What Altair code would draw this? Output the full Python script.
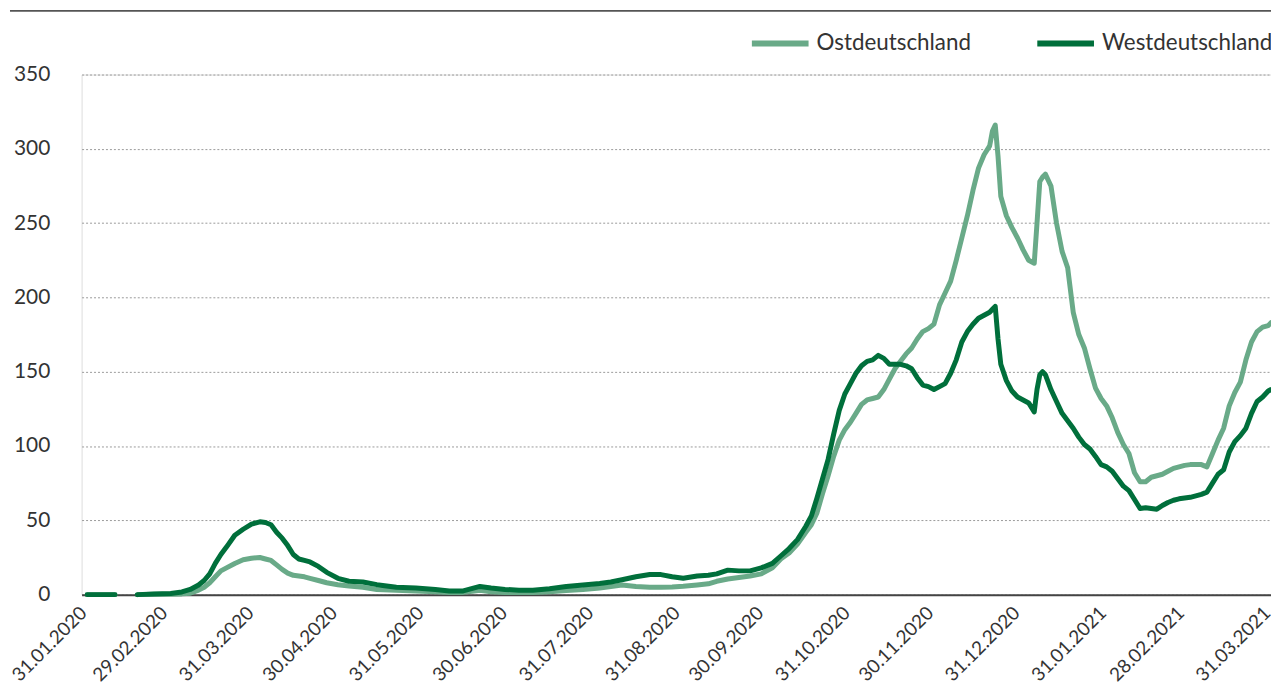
import altair as alt
import pandas as pd

# Dates (daily 7-day incidence readings)
dates = [
    "2020-01-31", "2020-02-05", "2020-02-10",
    "2020-02-18", "2020-02-24", "2020-03-01", "2020-03-05", "2020-03-08", "2020-03-11",
    "2020-03-13", "2020-03-15", "2020-03-17", "2020-03-19", "2020-03-21", "2020-03-24",
    "2020-03-27", "2020-03-30", "2020-04-02", "2020-04-04", "2020-04-06", "2020-04-08",
    "2020-04-10", "2020-04-12", "2020-04-14", "2020-04-16", "2020-04-18", "2020-04-20",
    "2020-04-23", "2020-04-26", "2020-04-30", "2020-05-04", "2020-05-09", "2020-05-14",
    "2020-05-21", "2020-05-28", "2020-06-04", "2020-06-09", "2020-06-14", "2020-06-18",
    "2020-06-20", "2020-06-24", "2020-06-29", "2020-07-04", "2020-07-09", "2020-07-15",
    "2020-07-21", "2020-07-27", "2020-08-02", "2020-08-06", "2020-08-10", "2020-08-15",
    "2020-08-20", "2020-08-24", "2020-08-28", "2020-09-01", "2020-09-06", "2020-09-10",
    "2020-09-13", "2020-09-17", "2020-09-21", "2020-09-25", "2020-09-29", "2020-10-03",
    "2020-10-06", "2020-10-09", "2020-10-12", "2020-10-15", "2020-10-17", "2020-10-19",
    "2020-10-21", "2020-10-23", "2020-10-25", "2020-10-27", "2020-10-29", "2020-10-31",
    "2020-11-02", "2020-11-04", "2020-11-06", "2020-11-08", "2020-11-10", "2020-11-12",
    "2020-11-14", "2020-11-16", "2020-11-18", "2020-11-20", "2020-11-22", "2020-11-24",
    "2020-11-26", "2020-11-28", "2020-11-30", "2020-12-02", "2020-12-04", "2020-12-06",
    "2020-12-08", "2020-12-10", "2020-12-12", "2020-12-14", "2020-12-16", "2020-12-18",
    "2020-12-20", "2020-12-21", "2020-12-22", "2020-12-23", "2020-12-24", "2020-12-26",
    "2020-12-28", "2020-12-30", "2021-01-01", "2021-01-03", "2021-01-05", "2021-01-06",
    "2021-01-07", "2021-01-08", "2021-01-09", "2021-01-11", "2021-01-13", "2021-01-15",
    "2021-01-17", "2021-01-19", "2021-01-21", "2021-01-23", "2021-01-25", "2021-01-27",
    "2021-01-29", "2021-01-31", "2021-02-02", "2021-02-04", "2021-02-06", "2021-02-08",
    "2021-02-10", "2021-02-12", "2021-02-14", "2021-02-16", "2021-02-18", "2021-02-20",
    "2021-02-22", "2021-02-24", "2021-02-26", "2021-02-28", "2021-03-02", "2021-03-04",
    "2021-03-06", "2021-03-08", "2021-03-10", "2021-03-12", "2021-03-14", "2021-03-16",
    "2021-03-18", "2021-03-20", "2021-03-22", "2021-03-24", "2021-03-26", "2021-03-28",
    "2021-03-30", "2021-03-31",
]

ost = [
    0, 0, 0,
    0, 0.2, 0.3, 0.5, 1, 3,
    5, 8, 12, 16, 18, 21,
    23.5, 24.5, 25, 24, 23, 20,
    17, 14.5, 13, 12.5, 12, 11,
    9.5, 8, 6.7, 5.8, 5, 3.5,
    3, 2.5, 2, 1.5, 1.5, 2.5,
    3, 2, 1.5, 1.5, 1.5, 2,
    2.8, 3.5, 4.5, 5.5, 6.5, 5.5,
    5, 5, 5.2, 5.6, 6.5, 7.3,
    9, 10.5, 11.5, 12.5, 14, 18,
    24, 28, 34, 42, 47, 55,
    68, 80, 93, 104, 111, 116,
    122, 128, 131, 132, 133, 138,
    145, 152, 157, 162, 166, 172,
    177, 179, 182, 195, 203, 211,
    225, 240, 255, 272, 287, 296,
    302, 312, 316, 295, 268, 255,
    247, 240, 232, 225, 223, 250,
    278, 281, 283, 275, 250, 231,
    220, 190, 175, 166, 152, 139,
    132, 127, 119, 109, 101, 95,
    82, 76, 76, 79, 80, 81,
    83, 85, 86, 87, 87.5, 87.5,
    87.5, 86, 95, 104, 112, 127,
    136, 143, 158, 170, 177, 180,
    181, 183,
]

west = [
    0, 0, 0,
    0, 0.4, 0.8, 1.8, 3.5, 6.5,
    9.5, 14, 21, 27, 32, 40,
    44, 47.5, 49, 48.5, 47, 42,
    38, 33, 27, 24, 23, 22,
    19, 15, 11, 9, 8.5, 6.7,
    5, 4.5, 3.5, 2.5, 2.5, 4.5,
    5.5, 4.5, 3.5, 3, 3, 4,
    5.5, 6.5, 7.5, 8.5, 10, 12,
    13.5, 13.5, 12, 11, 12.5, 13,
    14, 16.5, 16, 16, 18, 21,
    26, 31, 37, 46, 53, 65,
    78, 91, 108, 124, 135, 142,
    149, 154, 157, 158, 161, 159,
    155, 155, 155, 154, 152, 146,
    141, 140, 138, 140, 142, 149,
    158, 170, 177, 182, 186, 188,
    190, 192, 194, 172, 155, 144,
    137, 133, 131, 129, 123, 138,
    148, 150, 148, 138, 130, 122,
    117, 112, 106, 101, 98, 93,
    87.5, 86, 83, 78, 73, 70,
    64, 58, 58.5, 58, 57.5, 60,
    62, 63.5, 64.5, 65, 65.5, 66.5,
    67.5, 69, 75, 81, 84, 96,
    103, 107, 112, 122, 130, 133,
    137, 138,
]

series_names = ["Ostdeutschland", "Westdeutschland"]
series_colors = ["#69aa88", "#006f3b"]

tick_dates = [
    (2020, 1, 31), (2020, 2, 29), (2020, 3, 31), (2020, 4, 30), (2020, 5, 31),
    (2020, 6, 30), (2020, 7, 31), (2020, 8, 31), (2020, 9, 30), (2020, 10, 31),
    (2020, 11, 30), (2020, 12, 31), (2021, 1, 31), (2021, 2, 28), (2021, 3, 31),
]
y_ticks = [0, 50, 100, 150, 200, 250, 300, 350]

rows = []
for d, o, w in zip(dates, ost, west):
    seg = 0 if d < "2020-02-15" else 1
    rows.append({"date": d, "region": series_names[0], "value": o, "seg": seg})
    rows.append({"date": d, "region": series_names[1], "value": w, "seg": seg})
df = pd.DataFrame(rows)

FONT = "Lato"
TEXT = "#333333"

x_enc = alt.X(
    "date:T",
    scale=alt.Scale(
        type="utc",
        domain=[alt.DateTime(year=2020, month=1, date=29, utc=True),
                alt.DateTime(year=2021, month=3, date=31, utc=True)],
        nice=False,
    ),
    axis=alt.Axis(
        values=[alt.DateTime(year=a, month=b, date=c, utc=True) for a, b, c in tick_dates],
        format="%d.%m.%Y",
        labelAngle=-45,
        labelAlign="right",
        labelBaseline="middle",
        labelPadding=15,
        labelOffset=-4,
        labelFontSize=19,
        labelFont=FONT,
        labelColor=TEXT,
        labelOverlap=False,
        labelFlush=False,
        labelBound=False,
        ticks=False,
        grid=False,
        domain=True,
        domainColor="#444444",
        domainWidth=2,
        title=None,
    ),
)

y_enc = alt.Y(
    "value:Q",
    scale=alt.Scale(domain=[0, 350], nice=False),
    axis=alt.Axis(
        values=y_ticks,
        grid=True,
        gridDash=[2, 2],
        gridColor="#9a9a9a",
        gridWidth=1,
        domain=False,
        ticks=False,
        labelFontSize=21,
        labelFont=FONT,
        labelColor=TEXT,
        labelPadding=32,
        title=None,
    ),
)

color_enc = alt.Color(
    "region:N",
    scale=alt.Scale(domain=series_names, range=series_colors),
    legend=alt.Legend(
        orient="none",
        legendX=671,
        legendY=-63,
        direction="horizontal",
        symbolType="stroke",
        symbolSize=3249,
        symbolStrokeWidth=6,
        labelFontSize=22.5,
        labelFont=FONT,
        labelColor=TEXT,
        labelOffset=5,
        labelLimit=400,
        columnPadding=54,
        title=None,
    ),
)

base = alt.Chart(df).mark_line(strokeWidth=5, strokeCap="round", strokeJoin="round").encode(
    x=x_enc, y=y_enc, color=color_enc, detail="seg:N"
)

ost_layer = base.transform_filter(alt.datum.region == series_names[0])
west_layer = base.transform_filter(alt.datum.region == series_names[1])

top_rule = alt.Chart(pd.DataFrame({"a": [0]})).mark_rule(color="#555555", strokeWidth=2).encode(
    x=alt.value(-72), x2=alt.value(1197), y=alt.value(-64)
)

chart = alt.layer(ost_layer, west_layer, top_rule).properties(
    width=1196,
    height=523,
    autosize=alt.AutoSizeParams(type="none"),
    padding={"left": 74, "top": 65, "right": 0, "bottom": 94},
).configure_view(stroke=None).configure(background="white")

chart.save("out.html", embed_options={"renderer": "svg", "actions": False})
